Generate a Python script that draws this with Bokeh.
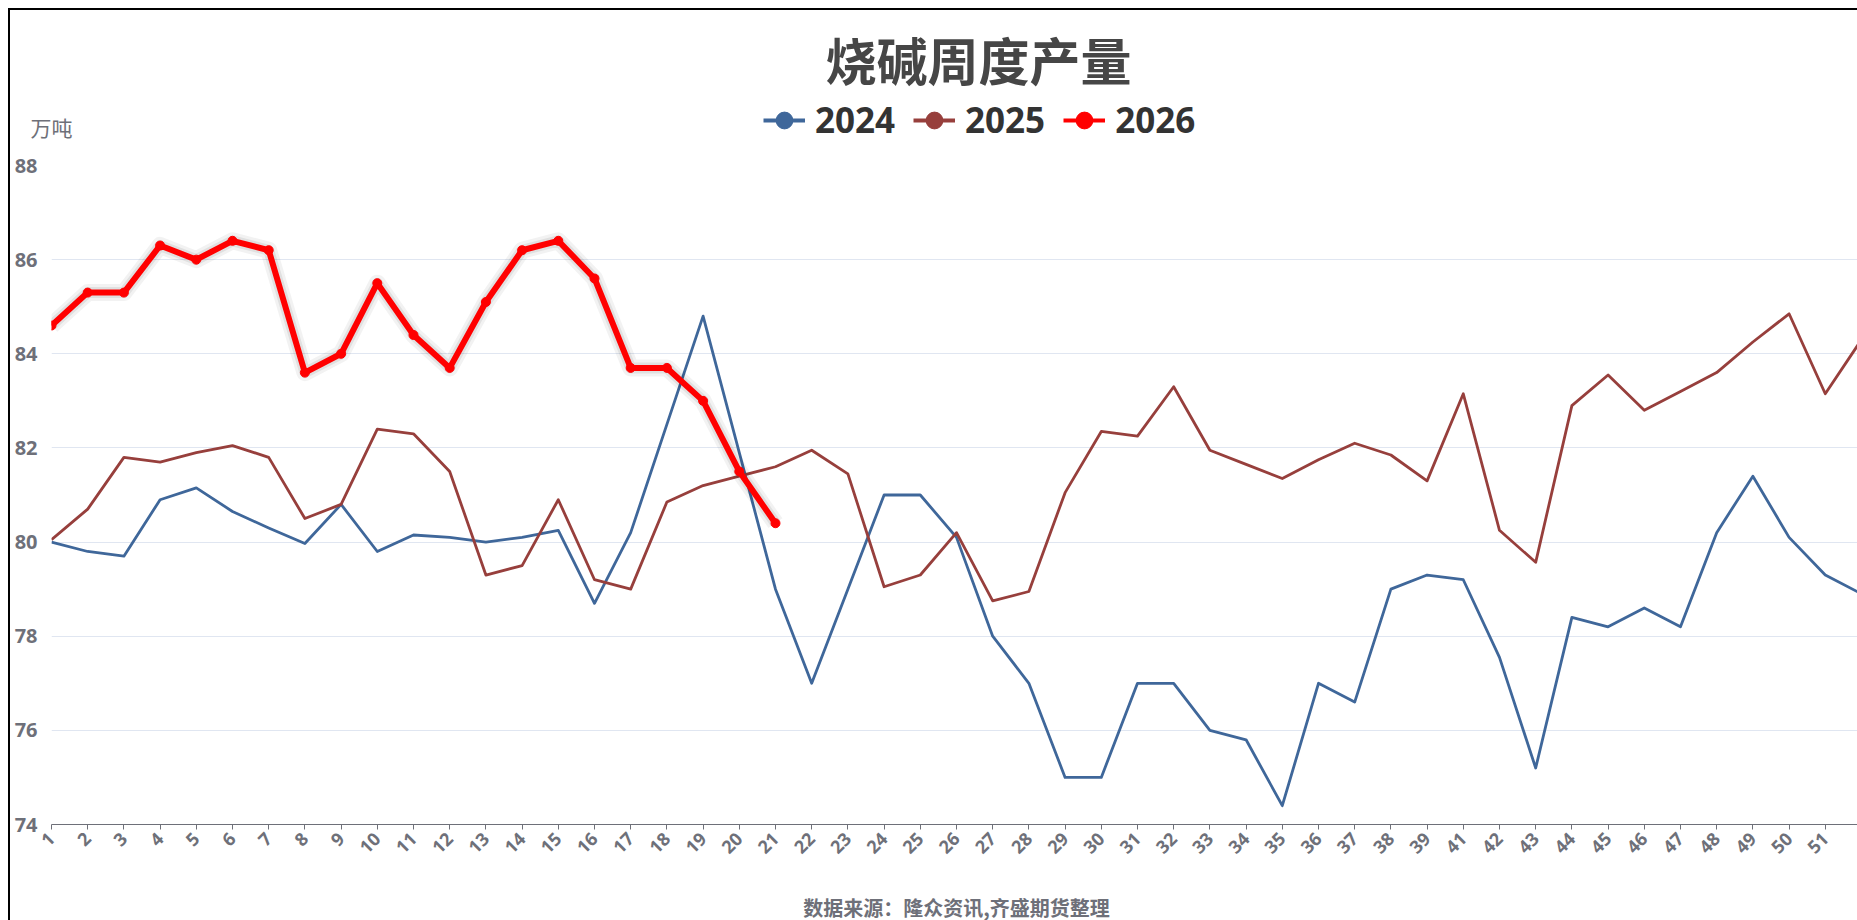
import math
from bokeh.plotting import figure
from bokeh.layouts import column
from bokeh.models import Range1d, FixedTicker, Label, Legend, LegendItem
from bokeh.embed import file_html
from bokeh.resources import INLINE

# ---------------- data ----------------
weeks = ["1", "2", "3", "4", "5", "6", "7", "8", "9", "10",
         "11", "12", "13", "14", "15", "16", "17", "18", "19", "20",
         "21", "22", "23", "24", "25", "26", "27", "28", "29", "30",
         "31", "32", "33", "34", "35", "36", "37", "38", "39", "41",
         "42", "43", "44", "45", "46", "47", "48", "49", "50", "51", "52"]

y2024 = [80.0, 79.8, 79.7, 80.9, 81.15, 80.65, 80.3, 79.97, 80.8, 79.8,
         80.15, 80.1, 80.0, 80.1, 80.25, 78.7, 80.2, 82.5, 84.8, 81.9,
         79.0, 77.0, 79.0, 81.0, 81.0, 80.1, 78.0, 77.0, 75.0, 75.0,
         77.0, 77.0, 76.0, 75.8, 74.4, 77.0, 76.6, 79.0, 79.3, 79.2,
         77.55, 75.2, 78.4, 78.2, 78.6, 78.2, 80.2, 81.4, 80.1, 79.3, 78.9]

y2025 = [80.05, 80.7, 81.8, 81.7, 81.9, 82.05, 81.8, 80.5, 80.8, 82.4,
         82.3, 81.5, 79.3, 79.5, 80.9, 79.2, 79.0, 80.85, 81.2, 81.4,
         81.6, 81.95, 81.45, 79.05, 79.3, 80.2, 78.75, 78.95, 81.05, 82.35,
         82.25, 83.3, 81.95, 81.65, 81.35, 81.75, 82.1, 81.85, 81.3, 83.15,
         80.25, 79.57, 82.9, 83.55, 82.8, 83.2, 83.6, 84.25, 84.85, 83.15, 84.3]

y2026 = [84.6, 85.3, 85.3, 86.3, 86.0, 86.4, 86.2, 83.6, 84.0, 85.5,
         84.4, 83.7, 85.1, 86.2, 86.4, 85.6, 83.7, 83.7, 83.0, 81.5, 80.4]

series_names = ["2024", "2025", "2026"]
y_ticks = [74, 76, 78, 80, 82, 84, 86, 88]

title_text = "烧碱周度产量"
unit_text = "万吨"
source_text = "数据来源：隆众资讯,齐盛期货整理"

# ---------------- styling ----------------
C24 = "#3f679a"
C25 = "#973f3c"
C26 = "#ff0000"
AXIS_C = "#6E7079"
GRID_C = "#E0E6F1"
CJK = "Noto Sans CJK SC"
LAT = "Open Sans"
W = 1857
TOP_H = 150
MAIN_H = 720
BOT_H = 50
NAN = [float("nan")]   # legend-only renderers: nothing is drawn in the plot


def bare(height, y_top):
    f = figure(width=W, height=height, output_backend="svg", toolbar_location=None,
               x_range=Range1d(0, W), y_range=Range1d(y_top + height, y_top),
               x_axis_type=None, y_axis_type=None,
               min_border_left=0, min_border_right=0, min_border_top=0, min_border_bottom=0,
               frame_align=False)
    f.outline_line_color = None
    f.background_fill_color = None
    f.border_fill_color = None
    f.xgrid.visible = False
    f.ygrid.visible = False
    return f


# ---------------- header: title, unit, legend ----------------
ph = bare(TOP_H, 0)
ph.add_layout(Label(x=978, y=58, text=title_text, text_font=CJK, text_font_size="51px",
                    text_font_style="bold", text_color="#464646",
                    text_align="center", text_baseline="middle"))
ph.add_layout(Label(x=30, y=126, text=unit_text, text_font=CJK, text_font_size="21px",
                    text_color=AXIS_C, text_align="left", text_baseline="middle"))

items = []
for name, col in zip(series_names, [C24, C25, C26]):
    lr = ph.line(NAN, NAN, line_color=col, line_width=4)
    sr = ph.scatter(NAN, NAN, fill_color=col, line_color=col, marker="circle")
    items.append(LegendItem(label=name, renderers=[lr, sr]))
legend = Legend(items=items, orientation="horizontal", location=(763, 7),
                glyph_width=42, glyph_height=42, label_standoff=10, spacing=18,
                padding=0, margin=0, border_line_color=None, background_fill_alpha=0,
                label_text_font=LAT, label_text_font_size="35px",
                label_text_font_style="bold", label_text_color="#333333",
                label_text_baseline="middle")
ph.add_layout(legend)

# ---------------- main chart ----------------
xi = list(range(len(weeks)))
xi26 = xi[:len(y2026)]

p = figure(width=W, height=MAIN_H, output_backend="svg", toolbar_location=None,
           x_range=Range1d(0, 49.89), y_range=Range1d(74, 88),
           min_border_left=51, min_border_right=0, min_border_top=15, min_border_bottom=46,
           frame_align=False)
p.outline_line_color = None
p.background_fill_color = None
p.border_fill_color = None

p.xgrid.visible = False
p.ygrid.grid_line_color = GRID_C
p.ygrid.grid_line_width = 1
p.ygrid.ticker = FixedTicker(ticks=y_ticks)

p.yaxis.ticker = FixedTicker(ticks=y_ticks)
p.yaxis.axis_line_color = None
p.yaxis.major_tick_line_color = None
p.yaxis.minor_tick_line_color = None
p.yaxis.major_tick_out = 0
p.yaxis.major_tick_in = 0
p.yaxis.major_label_standoff = 14
p.yaxis.major_label_text_font = LAT
p.yaxis.major_label_text_font_size = "20px"
p.yaxis.major_label_text_font_style = "bold"
p.yaxis.major_label_text_color = AXIS_C

p.xaxis.ticker = FixedTicker(ticks=xi)
p.xaxis.major_label_overrides = {i: w for i, w in zip(xi, weeks)}
p.xaxis.major_label_orientation = math.pi / 4
p.xaxis.axis_line_color = AXIS_C
p.xaxis.axis_line_width = 1
p.xaxis.major_tick_line_color = AXIS_C
p.xaxis.major_tick_out = 5
p.xaxis.major_tick_in = 0
p.xaxis.minor_tick_line_color = None
p.xaxis.major_label_standoff = 6
p.xaxis.major_label_text_font = LAT
p.xaxis.major_label_text_font_size = "18px"
p.xaxis.major_label_text_font_style = "bold"
p.xaxis.major_label_text_color = AXIS_C

p.line(xi, y2024, line_color=C24, line_width=2.8, line_join="round")
p.line(xi, y2025, line_color=C25, line_width=2.8, line_join="round")
p.line(xi26, y2026, line_color="black", line_alpha=0.05, line_width=17, line_join="round")
p.line(xi26, y2026, line_color="black", line_alpha=0.07, line_width=11, line_join="round")
p.line(xi26, y2026, line_color=C26, line_width=6, line_join="round")
p.scatter(xi26, y2026, size=9, fill_color=C26, line_color=C26, marker="circle")

# ---------------- footer: source ----------------
pf = bare(BOT_H, TOP_H + MAIN_H)
pf.add_layout(Label(x=956, y=906.5, text=source_text, text_font=CJK, text_font_size="20px",
                    text_font_style="bold", text_color=AXIS_C,
                    text_align="center", text_baseline="middle"))

page = column(ph, p, pf, spacing=0)
page.styles = {
    "background": "linear-gradient(#000,#000) 8px 8px / 1849px 2px no-repeat, "
                  "linear-gradient(#000,#000) 8px 8px / 2px 912px no-repeat, #ffffff"
}

open("out.html", "w").write(file_html(page, INLINE))
